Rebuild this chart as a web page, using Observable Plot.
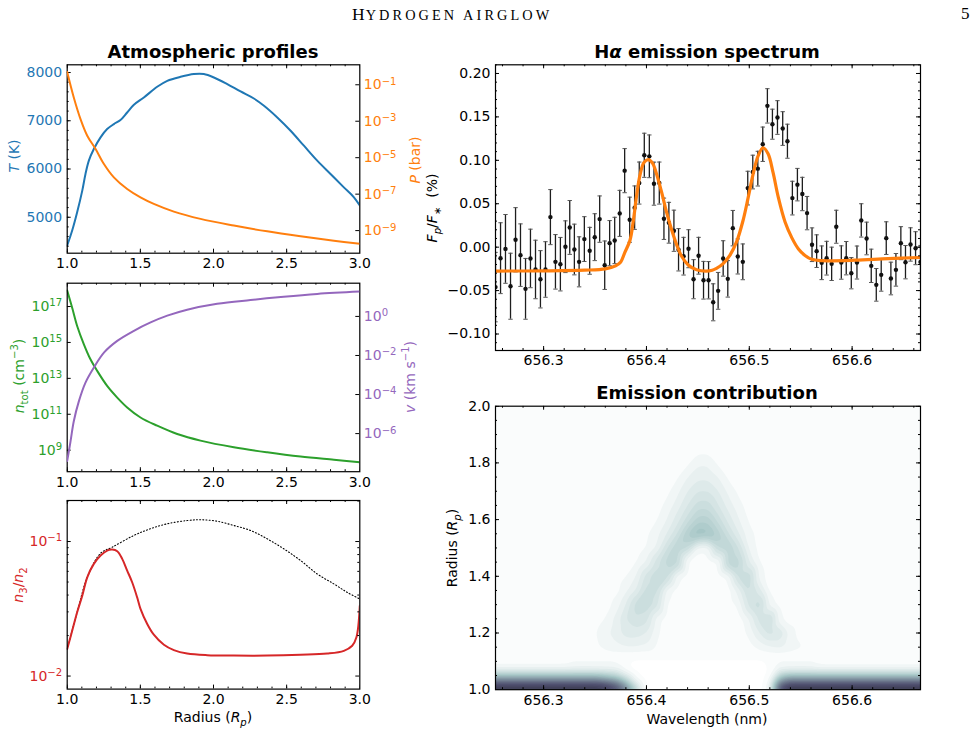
<!DOCTYPE html>
<html>
<head>
<meta charset="utf-8">
<script src="https://cdn.jsdelivr.net/npm/d3@7"></script>
<script src="https://cdn.jsdelivr.net/npm/@observablehq/plot@0.6"></script>
<style>
  html, body { margin: 0; padding: 0; background: #fff; }
  #page { position: relative; width: 980px; height: 734px; overflow: hidden; font-family: "DejaVu Sans", sans-serif; color: #000; }
  #page svg { position: absolute; left: 0; top: 0; }
  .lbl { position: absolute; white-space: nowrap; font-size: 14px; line-height: 1; }
  .rot { transform: translate(-50%, -50%) rotate(-90deg); }
  .hor { transform: translate(-50%, -50%); }
  .title { position: absolute; white-space: nowrap; font-weight: bold; font-size: 18px; line-height: 1; transform: translateX(-50%); }
  .lbl sub, .lbl sup { font-size: 0.72em; line-height: 0; }
  #header { position: absolute; left: 352px; top: 6px; font-family: "Liberation Serif", serif; white-space: nowrap; line-height: 1; }
  #header .cap { font-size: 17.5px; letter-spacing: 1px; }
  #header .sc { font-size: 14.3px; letter-spacing: 3.1px; }
  #folio { position: absolute; left: 961px; top: 5px; font-family: "Liberation Serif", serif; font-size: 17px; line-height: 1; }
</style>
</head>
<body>
<div id="page">
  <div id="header"><span class="cap">H</span><span class="sc">YDROGEN AIRGLOW</span></div>
  <div id="folio">5</div>

  <div class="title" style="left:213px; top:43px;">Atmospheric profiles</div>
  <div class="title" style="left:707px; top:43px;">H<i>α</i> emission spectrum</div>
  <div class="title" style="left:707px; top:384px;">Emission contribution</div>

  <div class="lbl rot" style="left:14px; top:156px; color:#1f77b4;"><i>T</i> (K)</div>
  <div class="lbl rot" style="left:415px; top:160px; color:#ff7f0e;"><i>P</i> (bar)</div>
  <div class="lbl rot" style="left:19px; top:376px; color:#2ca02c;"><i>n</i><sub>tot</sub> (cm<sup>−3</sup>)</div>
  <div class="lbl rot" style="left:410px; top:377px; color:#9467bd;"><i>v</i> (km s<sup>−1</sup>)</div>
  <div class="lbl rot" style="left:18px; top:585px; color:#d62728;"><i>n</i><sub>3</sub>/<i>n</i><sub>2</sub></div>
  <div class="lbl hor" style="left:213px; top:717px;">Radius (<i>R<sub>p</sub></i>)</div>
  <div class="lbl rot" style="left:432px; top:208px;"><i>F<sub>p</sub></i>/<i>F</i><sub>∗</sub>&nbsp; (%)</div>
  <div class="lbl rot" style="left:452px; top:548px;">Radius (<i>R<sub>p</sub></i>)</div>
  <div class="lbl hor" style="left:707px; top:719px;">Wavelength (nm)</div>
</div>
<script>
// ---------- Atmospheric profiles ----------
const radiusT = [1.0, 1.034, 1.068, 1.103, 1.125, 1.148, 1.182, 1.228, 1.273, 1.319, 1.364, 1.41, 1.456, 1.524, 1.615, 1.684,
  1.775, 1.866, 1.934, 2.003, 2.094, 2.185, 2.276, 2.345, 2.436, 2.527, 2.618, 2.709, 2.8, 2.891, 2.96, 3.0];
const temperature = [4414, 4724, 5103, 5552, 5897, 6173, 6414, 6655, 6828, 6932, 7014, 7172, 7331, 7483, 7704, 7828,
  7911, 7967, 7967, 7897, 7760, 7607, 7462, 7311, 7069, 6794, 6483, 6173, 5897, 5620, 5414, 5242];

const radiusP = [1.0, 1.045, 1.091, 1.137, 1.194, 1.251, 1.319, 1.41, 1.501, 1.592, 1.729, 1.911, 2.139, 2.367, 2.595, 2.823, 3.0];
const pressure = [5.0e-1, 2.0e-2, 1.3e-3, 1.6e-4, 3.0e-5, 4.5e-6, 8.3e-7, 1.9e-7, 6.6e-8, 2.9e-8, 1.1e-8, 4.4e-9, 1.9e-9,
  9.1e-10, 4.9e-10, 2.8e-10, 1.9e-10];

const radiusN = [1.0, 1.034, 1.068, 1.114, 1.159, 1.205, 1.273, 1.342, 1.41, 1.501, 1.615, 1.752, 1.911, 2.139, 2.367, 2.595, 2.823, 3.0];
const density = [7.9e17, 8.5e16, 8.3e15, 7.9e14, 1.15e14, 2.6e13, 3.8e12, 8.5e11, 2.4e11, 6.6e10, 2.3e10, 7.9e9, 3.4e9,
  1.45e9, 7.6e8, 4.4e8, 2.9e8, 2.1e8];

const radiusV = [1.0, 1.023, 1.045, 1.08, 1.125, 1.182, 1.251, 1.342, 1.456, 1.57, 1.684, 1.82, 2.025, 2.253, 2.48, 2.709, 3.0];
const velocity = [4.0e-8, 4.1e-7, 4.3e-6, 4.6e-5, 4.1e-4, 2.4e-3, 1.4e-2, 5.6e-2, 0.184, 0.49, 1.09, 2.2, 4.4, 6.9, 10.2, 14.1, 18.6];

const radiusRatio = [1.0, 1.034, 1.068, 1.103, 1.137, 1.182, 1.228, 1.273, 1.308, 1.342, 1.376, 1.41, 1.444, 1.478, 1.501,
  1.547, 1.592, 1.661, 1.729, 1.82, 1.957, 2.139, 2.367, 2.595, 2.777, 2.891, 2.948, 2.977, 3.0];
const levelRatio = [0.0159, 0.0217, 0.0298, 0.0396, 0.0542, 0.0682, 0.0787, 0.0857, 0.0871, 0.0847, 0.0743, 0.0608, 0.0498,
  0.0385, 0.0316, 0.0244, 0.0203, 0.0171, 0.0156, 0.0147, 0.0143, 0.0142, 0.0142, 0.0144, 0.0147, 0.0154, 0.0168, 0.0194, 0.0333];

const radiusBoltzmann = [1.0, 1.068, 1.137, 1.228, 1.308, 1.456, 1.57, 1.684, 1.82, 1.911, 2.025, 2.139, 2.253, 2.367, 2.48,
  2.595, 2.709, 2.823, 2.914, 3.0];
const levelRatioBoltzmann = [0.0159, 0.0298, 0.0542, 0.0818, 0.0908, 0.111, 0.1245, 0.1355, 0.1432, 0.1452, 0.1416, 0.1315,
  0.1208, 0.1047, 0.0883, 0.0723, 0.0574, 0.0484, 0.0419, 0.0374];

// ---------- H-alpha spectrum ----------
const wavelength = [
  656.2532, 656.2581, 656.2629, 656.2678, 656.2727, 656.2775, 656.2824, 656.2872, 656.2921, 656.2969,
  656.3018, 656.3066, 656.3115, 656.3163, 656.3212, 656.3254, 656.3299, 656.3345, 656.3396, 656.3448,
  656.3497, 656.3545, 656.3594, 656.3642, 656.3691, 656.3740, 656.3788, 656.3837, 656.3885, 656.3930,
  656.3979, 656.4028, 656.4073, 656.4125, 656.4170, 656.4218, 656.4267, 656.4312, 656.4361, 656.4409,
  656.4458, 656.4507, 656.4555, 656.4604, 656.4649, 656.4697, 656.4746, 656.4791, 656.4840, 656.4888,
  656.4937, 656.4985, 656.5034, 656.5083, 656.5131, 656.5176, 656.5225, 656.5274, 656.5325, 656.5371,
  656.5419, 656.5468, 656.5516, 656.5562, 656.5610, 656.5655, 656.5704, 656.5752, 656.5801, 656.5846,
  656.5895, 656.5943, 656.5992, 656.6047, 656.6089, 656.6141, 656.6186, 656.6235, 656.6283, 656.6332,
  656.6377, 656.6426, 656.6474, 656.6519, 656.6568, 656.6617, 656.6665];
const flux = [
  -0.046, -0.0127, -0.002, -0.045, 0.0085, -0.0092, -0.048, -0.013, -0.0257, -0.037,
  -0.0257, 0.0346, -0.0169, -0.0196, 0.0005, 0.0227, -0.0027, -0.0169, 0.0093, -0.0042,
  0.0115, 0.0323, -0.0208, 0.0046, 0.0077, 0.0389, 0.0881, 0.0316, 0.0455, 0.0738,
  0.1058, 0.1046, 0.0731, 0.0738, 0.0327, 0.0281, 0.0189, -0.003, -0.0104, -0.0018,
  -0.0369, -0.0099, -0.0381, -0.0381, -0.0635, -0.0503, -0.013, -0.0365, 0.0219, -0.0107,
  -0.0169, 0.068, 0.0865, 0.0904, 0.1185, 0.1627, 0.1416, 0.1493, 0.1366, 0.122,
  0.0565, 0.072, 0.0612, 0.0392, 0.0028, -0.0046, -0.018, -0.0127, -0.0192, 0.0235,
  -0.0177, -0.0127, -0.03, -0.0177, 0.0308, 0.01, -0.0215, -0.0434, -0.0319, 0.0104,
  -0.0361, -0.0261, 0.0046, -0.0173, 0.0031, -0.0012, -0.017];
const fluxError = [
  0.040, 0.0408, 0.0396, 0.038, 0.037, 0.036, 0.035, 0.0337, 0.0337, 0.033,
  0.032, 0.0317, 0.0314, 0.0308, 0.0298, 0.031, 0.0292, 0.0288, 0.0258, 0.027,
  0.027, 0.0267, 0.0279, 0.026, 0.0267, 0.0265, 0.0254, 0.026, 0.025, 0.0242,
  0.0254, 0.0246, 0.0248, 0.0242, 0.0238, 0.0235, 0.0237, 0.0244, 0.0217, 0.0219,
  0.0225, 0.0212, 0.0217, 0.0215, 0.0213, 0.0212, 0.0204, 0.021, 0.0204, 0.0202,
  0.0206, 0.0194, 0.0194, 0.02, 0.0198, 0.0198, 0.0173, 0.0194, 0.0194, 0.0196,
  0.0194, 0.0187, 0.0192, 0.0192, 0.0194, 0.0188, 0.0194, 0.0194, 0.0192, 0.019,
  0.0192, 0.0192, 0.018, 0.019, 0.0192, 0.0188, 0.0192, 0.0188, 0.0188, 0.0188,
  0.0188, 0.0188, 0.019, 0.0192, 0.0192, 0.019, 0.019];

const fitWavelength = [656.2532, 656.30, 656.34, 656.36, 656.370, 656.375, 656.379, 656.384, 656.3872, 656.3905, 656.3937,
  656.3976, 656.4018, 656.4060, 656.4099, 656.4148, 656.4196, 656.4245, 656.4293, 656.4342, 656.4406, 656.4487, 656.4580,
  656.4640, 656.4681, 656.4746, 656.4811, 656.4876, 656.4940, 656.4989, 656.5037, 656.5086, 656.5134, 656.5183, 656.5231,
  656.5283, 656.5348, 656.5413, 656.5478, 656.5542, 656.5607, 656.5700, 656.6027, 656.6351, 656.6665];
const fitFlux = [-0.0275, -0.0273, -0.0265, -0.0250, -0.0215, -0.0170, -0.0060, 0.0080, 0.0300, 0.0600, 0.0830,
  0.0975, 0.1008, 0.0965, 0.0840, 0.0630, 0.0400, 0.0200, 0.0030, -0.0105, -0.0205, -0.0260, -0.0275,
  -0.0265, -0.0245, -0.0190, -0.0095, 0.0060, 0.0310, 0.0570, 0.0840, 0.1050, 0.1145, 0.1075, 0.0860,
  0.0570, 0.0290, 0.0110, -0.0020, -0.0095, -0.0140, -0.0155, -0.0150, -0.0131, -0.0119];

// ---------- Emission contribution (contour levels on a wavelength x radius grid) ----------
const gridWavelength = [656.25, 656.26, 656.27, 656.28, 656.29, 656.30, 656.31, 656.32, 656.33, 656.34, 656.35, 656.36,
  656.37, 656.38, 656.39, 656.40, 656.41, 656.42, 656.43, 656.44, 656.45, 656.46, 656.47, 656.48, 656.49, 656.50, 656.51,
  656.52, 656.53, 656.54, 656.55, 656.56, 656.57, 656.58, 656.59, 656.60, 656.61, 656.62, 656.63, 656.64, 656.65, 656.66, 656.67];
const gridRadius = [1.00, 1.02, 1.04, 1.06, 1.08, 1.10, 1.125, 1.15, 1.20, 1.25, 1.30, 1.35, 1.40, 1.45, 1.50, 1.55, 1.60,
  1.65, 1.70, 1.75, 1.80, 1.85, 1.90, 1.95, 2.00];
const emission = [
  "29 29 29 29 29 29 29 29 29 29 29 28 25 19 8 0.5 0 0 0 0 0 0 0 0 0 0 0 2.5 25 29 29 29 29 29 29 29 29 29 29 29 29 29 29",
  "25 25 25 25 25 25 25 25 25 25 25 24 21 13 4 0.3 0 0 0 0 0 0 0 0 0 0 0 2 21 25 25 25 25 25 25 25 25 25 25 25 25 25 25",
  "15 15 15 15 15 15 15 15 15 15 15 13 11 6 1.5 0 0 0 0 0 0 0 0 0 0 0 0 1.2 11 15 15 15 15 15 15 15 15 15 15 15 15 15 15",
  "6 6 6 6 6 6 6 6 6 6 6 5.5 5 2.5 0.6 0 0 0 0 0 0 0 0 0 0 0 0 0.6 5 6 6 6 6 6 6 6 6 6 6 6 6 6 6",
  "1.8 1.8 1.8 1.8 1.8 1.8 1.8 1.8 2.2 2.2 2.2 2.2 2 0.7 0 0 0 0 0 0 0 0 0 0 0 0 0 0.7 2.2 2.2 2.2 2.2 1.6 1.6 1.6 1.6 1.6 1.6 1.6 1.6 1.6 1.6 1.6",
  "1 1 1 1 1 1 1 1 1.4 1.4 1.4 1.4 1.4 0.8 0.4 0.4 0.4 0.4 0.4 0.4 0.4 0.4 0.4 0.4 0.4 0.4 0.4 0.8 1.4 1.4 1.4 1.4 1 1 1 1 1 1 1 1 1 1 1",
  "1 1 1 1 1 1 1 1 1 1 1 1 1 1 1 1 1 1 1 1 1 1 1 1 1 1 1 1 1 1 1 1 1 1 1 1 1 1 1 1 1 1 1",
  "1 1 1 1 1 1 1 1 1 1 1.3 1.8 2.2 2.5 2.5 2.2 1.3 1 1 1 1 1 1 1 1 1 1.7 2.4 2.8 2.2 1.6 1 1 1 1 1 1 1 1 1 1 1 1",
  "1 1 1 1 1 1 1 1 1 1 1.4 2.2 3 4 4 3.5 1.7 1 1 1 1 1 1 1 1 1.8 3.5 5 4.5 2 1 1 1 1 1 1 1 1 1 1 1 1 1",
  "1 1 1 1 1 1 1 1 1 1 1 1.5 2.8 4.5 5.5 5 2 1 1 1 1 1 1 1 1 2.5 5 6 1.6 1 1 1 1 1 1 1 1 1 1 1 1 1 1",
  "1 1 1 1 1 1 1 1 1 1 1 1 1.8 3.5 6 6.5 5 1.3 1 1 1 1 1 1 1.8 5 6.5 2 1 1 1 1 1 1 1 1 1 1 1 1 1 1 1",
  "1 1 1 1 1 1 1 1 1 1 1 1 1 2.2 3.5 6 6 2 1 1 1 1 1 1 3 6 4 1.1 1 1 1 1 1 1 1 1 1 1 1 1 1 1 1",
  "1 1 1 1 1 1 1 1 1 1 1 1 1 1.4 2.5 5 6.5 6 1.8 1 1 1 1 1.8 6 6.5 2 1 1 1 1 1 1 1 1 1 1 1 1 1 1 1 1",
  "1 1 1 1 1 1 1 1 1 1 1 1 1 1 1.4 2.5 5 7 7 1.3 1 1 1.3 7.5 7 3.5 1.4 1 1 1 1 1 1 1 1 1 1 1 1 1 1 1 1",
  "1 1 1 1 1 1 1 1 1 1 1 1 1 1 1 1.5 2.6 5.5 7.5 6.5 1.8 1.8 6.5 7.5 5.5 2.2 1.2 1 1 1 1 1 1 1 1 1 1 1 1 1 1 1 1",
  "1 1 1 1 1 1 1 1 1 1 1 1 1 1 1 1.3 2.2 3.5 5.5 8.5 10.5 10 8 5.5 3.5 1.8 1.2 1 1 1 1 1 1 1 1 1 1 1 1 1 1 1 1",
  "1 1 1 1 1 1 1 1 1 1 1 1 1 1 1 1 1.4 2.5 4 6 8 8 6 4 2.5 1.3 1 1 1 1 1 1 1 1 1 1 1 1 1 1 1 1 1",
  "1 1 1 1 1 1 1 1 1 1 1 1 1 1 1 1 1.1 1.8 3 4.5 6 6 4.5 3 1.8 1.1 1 1 1 1 1 1 1 1 1 1 1 1 1 1 1 1 1",
  "1 1 1 1 1 1 1 1 1 1 1 1 1 1 1 1 1 1.2 2.2 3.5 4.5 4.5 3.5 2.2 1.2 1 1 1 1 1 1 1 1 1 1 1 1 1 1 1 1 1 1",
  "1 1 1 1 1 1 1 1 1 1 1 1 1 1 1 1 1 1 1.3 2.5 3.2 3.2 2.5 1.2 1 1 1 1 1 1 1 1 1 1 1 1 1 1 1 1 1 1 1",
  "1 1 1 1 1 1 1 1 1 1 1 1 1 1 1 1 1 1 1 1.2 2.3 2.3 1.2 1 1 1 1 1 1 1 1 1 1 1 1 1 1 1 1 1 1 1 1",
  "1 1 1 1 1 1 1 1 1 1 1 1 1 1 1 1 1 1 1 1 1 1 1 1 1 1 1 1 1 1 1 1 1 1 1 1 1 1 1 1 1 1 1",
  "1 1 1 1 1 1 1 1 1 1 1 1 1 1 1 1 1 1 1 1 1 1 1 1 1 1 1 1 1 1 1 1 1 1 1 1 1 1 1 1 1 1 1",
  "1 1 1 1 1 1 1 1 1 1 1 1 1 1 1 1 1 1 1 1 1 1 1 1 1 1 1 1 1 1 1 1 1 1 1 1 1 1 1 1 1 1 1",
  "1 1 1 1 1 1 1 1 1 1 1 1 1 1 1 1 1 1 1 1 1 1 1 1 1 1 1 1 1 1 1 1 1 1 1 1 1 1 1 1 1 1 1"
];

// ---------- ticks ----------
const radiusTicks = [1.0, 1.5, 2.0, 2.5, 3.0];
const radiusMinor = d3.range(10, 31).map(i => i / 10);
const temperatureTicks = [5000, 6000, 7000, 8000];
const temperatureMinor = d3.range(4400, 8001, 200);
const pressureTicks = [1e-9, 1e-7, 1e-5, 1e-3, 1e-1];
const densityTicks = [1e9, 1e11, 1e13, 1e15, 1e17];
const velocityTicks = [1e-6, 1e-4, 1e-2, 1e0];
const ratioTicks = [1e-2, 1e-1];
const ratioMinor = [0.02, 0.03, 0.04, 0.05, 0.06, 0.07, 0.08, 0.09, 0.2];
const fluxTicks = [-0.10, -0.05, 0.00, 0.05, 0.10, 0.15, 0.20];
const fluxMinor = d3.range(-12, 22).map(i => i / 100);
const wavelengthTicks = [656.3, 656.4, 656.5, 656.6];
const wavelengthMinor = d3.range(0, 21).map(i => 656.26 + 0.02 * i);
const radiusContribTicks = [1.0, 1.2, 1.4, 1.6, 1.8, 2.0];
const radiusContribMinor = d3.range(20, 41).map(i => i / 20);

const C = {blue: "#1f77b4", orange: "#ff7f0e", green: "#2ca02c", red: "#d62728", purple: "#9467bd"};
const W = 980, H = 734;
const page = document.getElementById("page");

// frame boxes: [left, right, top, bottom] in page pixels
const F = {
  atm: [66.7, 359.3, 64.3, 252.7],
  dens: [66.7, 359.3, 282.7, 471.2],
  ratio: [66.7, 359.3, 500, 688.6],
  spec: [495, 920, 64.3, 350],
  contrib: [495, 920, 405.7, 689.2]
};

const fmt1 = d3.format(".1f");
const fmt2 = d3.format(".2f");
const pow10 = d => "10^" + String(Math.round(Math.log10(d))).replace("-", "\u2212");

// turn "10^n" tick labels into a base with a raised exponent
function superscripts(svg) {
  const ns = "http://www.w3.org/2000/svg";
  svg.querySelectorAll("text").forEach(t => {
    const m = /^10\^(.+)$/.exec(t.textContent);
    if (!m) return;
    t.textContent = "";
    const base = document.createElementNS(ns, "tspan");
    base.textContent = "10";
    const exp = document.createElementNS(ns, "tspan");
    exp.textContent = m[1];
    exp.setAttribute("dy", "-0.45em");
    exp.setAttribute("font-size", "0.72em");
    t.append(base, exp);
  });
}

function panel(frame, scales, marks) {
  const [x0, x1, y0, y1] = frame;
  const svg = Plot.plot({
    width: W, height: H,
    marginLeft: x0, marginRight: W - x1, marginTop: y0, marginBottom: H - y1,
    ...scales,
    style: {background: "transparent", fontFamily: "'DejaVu Sans', sans-serif", fontSize: "14px", overflow: "visible", maxWidth: "none"},
    marks
  });
  superscripts(svg);
  page.appendChild(svg);
  return svg;
}

// inward tick marks on the top/bottom and left/right edges of a frame
function xTicks(values, frame, len, sides = ["top", "bottom"]) {
  const h = frame[3] - frame[2];
  const out = [];
  if (sides.includes("bottom")) out.push(Plot.tickX(values, {x: d => d, insetTop: h - len, stroke: "#000", strokeWidth: 1, clip: true}));
  if (sides.includes("top")) out.push(Plot.tickX(values, {x: d => d, insetBottom: h - len, stroke: "#000", strokeWidth: 1, clip: true}));
  return out;
}
function yTicks(values, frame, len, sides = ["left", "right"]) {
  const w = frame[1] - frame[0];
  const out = [];
  if (sides.includes("left")) out.push(Plot.tickY(values, {y: d => d, insetRight: w - len, stroke: "#000", strokeWidth: 1, clip: true}));
  if (sides.includes("right")) out.push(Plot.tickY(values, {y: d => d, insetLeft: w - len, stroke: "#000", strokeWidth: 1, clip: true}));
  return out;
}
const frameMark = () => Plot.frame({stroke: "#000", strokeWidth: 1.2});
const radiusAxis = () => Plot.axisX({anchor: "bottom", ticks: radiusTicks, tickSize: 0, tickPadding: 5, tickFormat: fmt1, label: null});

// ---- temperature (left) ----
panel(F.atm, {x: {domain: [1, 3], axis: null}, y: {domain: [4255, 8160], axis: null}}, [
  Plot.line(radiusT, {x: radiusT, y: temperature, stroke: C.blue, strokeWidth: 2, curve: "catmull-rom", clip: true}),
  ...xTicks(radiusTicks, F.atm, 4), ...xTicks(radiusMinor, F.atm, 2),
  ...yTicks(temperatureTicks, F.atm, 4, ["left"]), ...yTicks(temperatureMinor, F.atm, 2, ["left"]),
  radiusAxis(),
  Plot.axisY({anchor: "left", ticks: temperatureTicks, tickSize: 0, tickPadding: 5, tickFormat: d3.format("d"), color: C.blue, label: null}),
  frameMark()
]);
// ---- pressure (right) ----
panel(F.atm, {x: {domain: [1, 3], axis: null}, y: {type: "log", domain: [10 ** -10.24, 10 ** 0.096], axis: null}}, [
  Plot.line(radiusP, {x: radiusP, y: pressure, stroke: C.orange, strokeWidth: 2, curve: "catmull-rom", clip: true}),
  ...yTicks(pressureTicks, F.atm, 4, ["right"]),
  Plot.axisY({anchor: "right", ticks: pressureTicks, tickSize: 0, tickPadding: 4, tickFormat: pow10, color: C.orange, label: null})
]);

// ---- total density (left) ----
panel(F.dens, {x: {domain: [1, 3], axis: null}, y: {type: "log", domain: [10 ** 7.8, 10 ** 18.3], axis: null}}, [
  Plot.line(radiusN, {x: radiusN, y: density, stroke: C.green, strokeWidth: 2, curve: "catmull-rom", clip: true}),
  ...xTicks(radiusTicks, F.dens, 4), ...xTicks(radiusMinor, F.dens, 2),
  ...yTicks(densityTicks, F.dens, 4, ["left"]),
  radiusAxis(),
  Plot.axisY({anchor: "left", ticks: densityTicks, tickSize: 0, tickPadding: 5, tickFormat: pow10, color: C.green, label: null}),
  frameMark()
]);
// ---- outflow velocity (right) ----
panel(F.dens, {x: {domain: [1, 3], axis: null}, y: {type: "log", domain: [10 ** -7.95, 10 ** 1.70], axis: null}}, [
  Plot.line(radiusV, {x: radiusV, y: velocity, stroke: C.purple, strokeWidth: 2, curve: "catmull-rom", clip: true}),
  ...yTicks(velocityTicks, F.dens, 4, ["right"]),
  Plot.axisY({anchor: "right", ticks: velocityTicks, tickSize: 0, tickPadding: 4, tickFormat: pow10, color: C.purple, label: null})
]);

// ---- level population ratio ----
panel(F.ratio, {x: {domain: [1, 3], axis: null}, y: {type: "log", domain: [10 ** -2.097, 10 ** -0.695], axis: null}}, [
  Plot.line(radiusBoltzmann, {x: radiusBoltzmann, y: levelRatioBoltzmann, stroke: "#000", strokeWidth: 1.1, strokeDasharray: "1,2.2", curve: "catmull-rom", clip: true}),
  Plot.line(radiusRatio, {x: radiusRatio, y: levelRatio, stroke: C.red, strokeWidth: 2, curve: "catmull-rom", clip: true}),
  ...xTicks(radiusTicks, F.ratio, 4), ...xTicks(radiusMinor, F.ratio, 2),
  ...yTicks(ratioTicks, F.ratio, 4), ...yTicks(ratioMinor, F.ratio, 2),
  radiusAxis(),
  Plot.axisY({anchor: "left", ticks: ratioTicks, tickSize: 0, tickPadding: 5, tickFormat: pow10, color: C.red, label: null}),
  frameMark()
]);

// ---- H-alpha emission spectrum ----
const fluxLow = flux.map((f, i) => f - fluxError[i]);
const fluxHigh = flux.map((f, i) => f + fluxError[i]);
const capSymbol = {draw(context, size) { const w = Math.sqrt(size / Math.PI); context.moveTo(-w, 0); context.lineTo(w, 0); }};
panel(F.spec, {x: {domain: [656.2532, 656.6665], axis: null}, y: {domain: [-0.119, 0.21], axis: null}}, [
  Plot.ruleX(wavelength, {x: wavelength, y1: fluxLow, y2: fluxHigh, stroke: "#1e1e1e", strokeWidth: 1.3, clip: true}),
  Plot.dot(wavelength, {x: wavelength, y: fluxLow, symbol: capSymbol, r: 2.2, stroke: "#555", strokeWidth: 1, fill: "none", clip: true}),
  Plot.dot(wavelength, {x: wavelength, y: fluxHigh, symbol: capSymbol, r: 2.2, stroke: "#555", strokeWidth: 1, fill: "none", clip: true}),
  Plot.dot(wavelength, {x: wavelength, y: flux, r: 2.2, fill: "#111", stroke: "none", clip: true}),
  Plot.line(fitWavelength, {x: fitWavelength, y: fitFlux, stroke: C.orange, strokeWidth: 3.2, curve: "catmull-rom", clip: true}),
  ...xTicks(wavelengthTicks, F.spec, 4), ...xTicks(wavelengthMinor, F.spec, 2),
  ...yTicks(fluxTicks, F.spec, 4), ...yTicks(fluxMinor, F.spec, 2),
  Plot.axisX({anchor: "bottom", ticks: wavelengthTicks, tickSize: 0, tickPadding: 5, tickFormat: fmt1, label: null}),
  Plot.axisY({anchor: "left", ticks: fluxTicks, tickSize: 0, tickPadding: 5, tickFormat: fmt2, label: null}),
  frameMark()
]);

// ---- emission contribution map ----
const emissionPoints = [];
gridRadius.forEach((r, j) => {
  emission[j].trim().split(/\s+/).map(Number).forEach((level, i) => {
    emissionPoints.push({wavelength: gridWavelength[i], radius: r, level});
  });
});
panel(F.contrib, {
  x: {domain: [656.2532, 656.6665], axis: null},
  y: {domain: [1, 2], axis: null},
  color: {type: "linear", domain: [0, 9.5, 23.75, 37.4], range: ["#ffffff", "#a6c6c6", "#515171", "#000000"], interpolate: "rgb", clamp: true}
}, [
  Plot.contour(emissionPoints, {x: "wavelength", y: "radius", fill: "level", interpolate: "barycentric",
    thresholds: d3.range(0.5, 32, 1), blur: 1, clip: true}),
  ...xTicks(wavelengthTicks, F.contrib, 4), ...xTicks(wavelengthMinor, F.contrib, 2),
  ...yTicks(radiusContribTicks, F.contrib, 4), ...yTicks(radiusContribMinor, F.contrib, 2),
  Plot.axisX({anchor: "bottom", ticks: wavelengthTicks, tickSize: 0, tickPadding: 5, tickFormat: fmt1, label: null}),
  Plot.axisY({anchor: "left", ticks: radiusContribTicks, tickSize: 0, tickPadding: 5, tickFormat: fmt1, label: null}),
  frameMark()
]);
</script>
</body>
</html>
